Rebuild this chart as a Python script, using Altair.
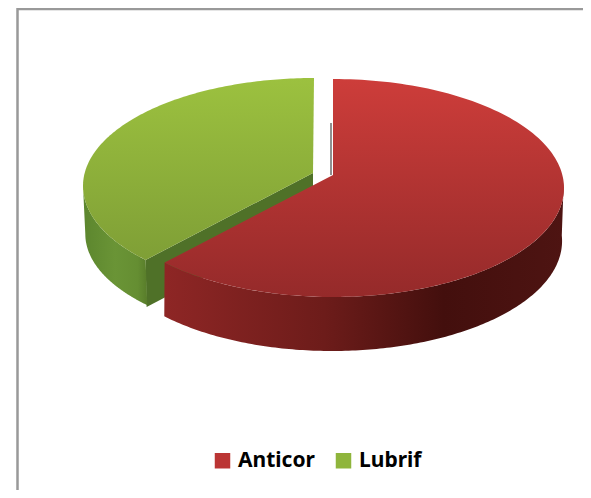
import numpy as np
import pandas as pd
import altair as alt

categories = ["Anticor", "Lubrif"]
values = [63, 37]
legend_colors = ["#bb3534", "#8fb53c"]

W, H = 575, 482
RX = 231.0   # px per pie unit, horizontally
RY = 109.0   # px per pie unit, vertically
OX, OY = 333.0 - 8, 188.0 - 8   # reference point of the red slice inside the plot


def grad_v(stops):
    return alt.Gradient(gradient="linear", x1=0, y1=0, x2=0, y2=1,
                        stops=[alt.GradientStop(offset=o, color=c) for o, c in stops])


def grad_h(stops):
    return alt.Gradient(gradient="linear", x1=0, y1=0, x2=1, y2=0,
                        stops=[alt.GradientStop(offset=o, color=c) for o, c in stops])


x_scale = alt.Scale(domain=[-OX / RX, (W - OX) / RX], range=[0, W], nice=False, zero=False)
y_scale = alt.Scale(domain=[OY / RY, (OY - H) / RY], range=[0, H], nice=False, zero=False)

split = 2 * np.pi * values[0] / sum(values)


def rim(t0, t1, n=160):
    t = np.linspace(t0, t1, n)
    return np.sin(t), np.cos(t)


def poly(xs, ys):
    return pd.DataFrame({"x": xs, "y": ys, "o": np.arange(len(xs))})


def fill_layer(df, fill):
    return alt.Chart(df).mark_line(fill=fill, strokeWidth=0, stroke="transparent", interpolate="linear").encode(
        x=alt.X("x:Q", scale=x_scale, axis=None),
        y=alt.Y("y:Q", scale=y_scale, axis=None),
        order="o:Q",
    )


# Red slice (Anticor): top, wall
rs, rc = rim(0, split)
apex_r = (0.0, 13 / RY)
red_top = poly(np.r_[apex_r[0], rs], np.r_[apex_r[1], rc])
ws, wc = rim(np.pi / 2 - 0.05, split)
red_wall = poly(
    np.r_[ws, (0.996 * ws - 1 / RX)[::-1]],
    np.r_[wc, (wc * 110 / RY - 53 / RY)[::-1]],
)

# Green slice (Lubrif), moved left of the red one
gdx, gdy = -19 / RX, 2 / RY
gs, gc = rim(split, 2 * np.pi)
apex_g = (gdx - 1 / RX, gdy + 13 / RY)
green_top = poly(np.r_[apex_g[0], gs + gdx], np.r_[apex_g[1], gc * 108 / RY + gdy])
gws, gwc = rim(split, 1.5 * np.pi)
green_wall = poly(
    np.r_[gws + gdx, (0.99 * gws + gdx)[::-1]],
    np.r_[gwc * 108 / RY + gdy, (gwc * 104 / RY + gdy - 48 / RY)[::-1]],
)
cx, cy = np.sin(split) + gdx, np.cos(split) * 108 / RY + gdy
green_face = poly(
    [apex_g[0], cx, cx + 1 / RX, apex_g[0]],
    [apex_g[1], cy, cy - 47 / RY, apex_g[1] - 47 / RY],
)

frame_top = alt.Chart(pd.DataFrame({"a": [0]})).mark_rule(color="#999999", strokeWidth=2.5).encode(
    x=alt.value(9), x2=alt.value(W), y=alt.value(1))
frame_left = alt.Chart(pd.DataFrame({"a": [0]})).mark_rule(color="#999999", strokeWidth=2.5).encode(
    x=alt.value(9.5), y=alt.value(0), y2=alt.value(H))

inner_edge = alt.Chart(pd.DataFrame({"x": [-2 / RX], "y": [13 / RY], "y2": [65 / RY]})).mark_rule(
    color="#6b6b6b", strokeWidth=1.5
).encode(x=alt.X("x:Q", scale=x_scale, axis=None),
         y=alt.Y("y:Q", scale=y_scale, axis=None), y2="y2:Q")

legend_src = alt.Chart(pd.DataFrame({"cat": categories, "x": [0, 0], "y": [0, 0]})).mark_square(
    size=0, opacity=1
).encode(
    x=alt.X("x:Q", scale=x_scale, axis=None),
    y=alt.Y("y:Q", scale=y_scale, axis=None),
    color=alt.Color(
        "cat:N",
        scale=alt.Scale(domain=categories, range=legend_colors),
        legend=alt.Legend(
            title=None, orient="none", legendX=204, legendY=442, direction="horizontal",
            symbolType="square", symbolSize=240, symbolStrokeWidth=0,
            labelFont="Noto Sans", labelFontWeight="bold", labelFontSize=21, labelColor="#000000",
            columnPadding=18, labelOffset=5, padding=0,
        ),
    ),
)

chart = alt.layer(
    frame_top, frame_left,
    fill_layer(green_face, "#4f7128"),
    fill_layer(green_wall, grad_h([(0, "#5c862e"), (0.5, "#6a9436"), (0.85, "#658e32"), (1, "#587c2a")])),
    fill_layer(green_top, grad_v([(0, "#9cc13f"), (1, "#7f9f36")])),
    inner_edge,
    fill_layer(red_wall, grad_h([(0, "#8e2625"), (0.4, "#6d1c1a"), (0.7, "#430f0d"), (1, "#4e1412")])),
    fill_layer(red_top, grad_v([(0, "#cd3d3a"), (1, "#952a2a")])),
    legend_src,
).properties(
    width=W, height=H, padding=0, background="#ffffff",
    autosize=alt.AutoSizeParams(type="none", contains="padding"),
).configure_view(stroke=None)

chart.save("out.html", embed_options={"renderer": "svg", "actions": False})
